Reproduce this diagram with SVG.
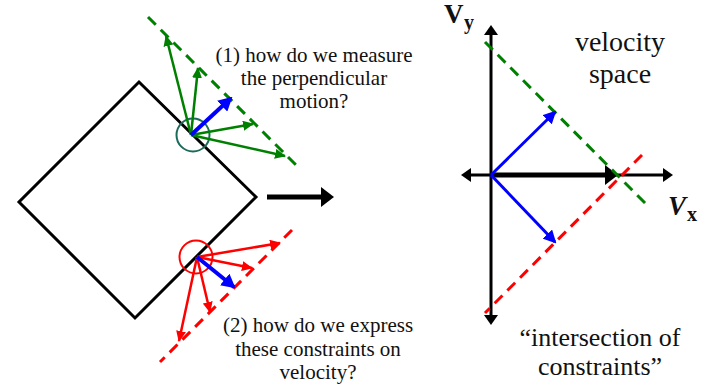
<svg xmlns="http://www.w3.org/2000/svg" width="706" height="389" viewBox="0 0 706 389">
<style>
.lbl{font-size:21px;text-anchor:middle}
.big{font-size:28px;text-anchor:middle}
.ioc{font-size:26px;text-anchor:middle}
.ax{font-weight:bold;font-size:27px}
.sub{font-weight:bold;font-size:20px}
.g{stroke:#008000;stroke-width:2.5;fill:none}
.r{stroke:#ff0000;stroke-width:2.5;fill:none}
.b{stroke:#0000ff;stroke-width:4;fill:none}
.bs{stroke:#0000ff;stroke-width:3;fill:none}
.k{stroke:#000;stroke-width:3;fill:none}
.gd{stroke:#008000;stroke-width:3;stroke-dasharray:11 7;fill:none}
.rd{stroke:#ff0000;stroke-width:3;stroke-dasharray:11 7;fill:none}
</style>
<defs>
<marker id="mG" markerUnits="userSpaceOnUse" markerWidth="11" markerHeight="10" refX="10" refY="5" orient="auto"><path d="M0,0 L11,5 L0,10 Z" fill="#008000"/></marker>
<marker id="mR" markerUnits="userSpaceOnUse" markerWidth="11" markerHeight="10" refX="10" refY="5" orient="auto"><path d="M0,0 L11,5 L0,10 Z" fill="#ff0000"/></marker>
<marker id="mB" markerUnits="userSpaceOnUse" markerWidth="14" markerHeight="15" refX="12" refY="7.5" orient="auto"><path d="M0,0 L14,7.5 L0,15 Z" fill="#0000ff"/></marker>
<marker id="mBs" markerUnits="userSpaceOnUse" markerWidth="13" markerHeight="13" refX="11" refY="6.5" orient="auto"><path d="M0,0 L13,6.5 L0,13 Z" fill="#0000ff"/></marker>
<marker id="mK" markerUnits="userSpaceOnUse" markerWidth="10" markerHeight="14" refX="1" refY="7" orient="auto-start-reverse"><path d="M0,0 L10,7 L0,14 Z" fill="#000"/></marker>
<marker id="mKb" markerUnits="userSpaceOnUse" markerWidth="13" markerHeight="20" refX="2" refY="10" orient="auto"><path d="M0,0 L13,10 L0,20 Z" fill="#000"/></marker>
</defs>

<g id="square">
<path d="M139,82 L256,197 L135,318 L19,202 Z" fill="none" stroke="#000" stroke-width="3" stroke-linejoin="miter"/>
</g>

<g id="motion-arrow">
<line x1="267" y1="197" x2="323" y2="197" stroke="#000" stroke-width="5" marker-end="url(#mKb)"/>
</g>

<g id="top-aperture">
<circle cx="193" cy="135" r="16.5" fill="none" stroke="#1b6b5a" stroke-width="2"/>
</g>
<g id="bottom-aperture">
<circle cx="196" cy="257" r="16.5" fill="none" stroke="#ff0000" stroke-width="2"/>
</g>

<g id="connectors">
<line class="gd" x1="148" y1="17" x2="296" y2="165"/>
<line class="g" x1="191" y1="135" x2="166" y2="36" marker-end="url(#mG)"/>
<line class="g" x1="191" y1="135" x2="198" y2="68" marker-end="url(#mG)"/>
<line class="g" x1="191" y1="135" x2="253" y2="124" marker-end="url(#mG)"/>
<line class="g" x1="191" y1="135" x2="285" y2="156" marker-end="url(#mG)"/>
<line class="b" x1="191" y1="135" x2="231" y2="98" marker-end="url(#mB)"/>

<line class="rd" x1="292" y1="230" x2="160" y2="362"/>
<line class="r" x1="197" y1="257" x2="280" y2="243" marker-end="url(#mR)"/>
<line class="r" x1="197" y1="257" x2="252" y2="268" marker-end="url(#mR)"/>
<line class="r" x1="197" y1="257" x2="210" y2="312" marker-end="url(#mR)"/>
<line class="r" x1="197" y1="257" x2="179" y2="341" marker-end="url(#mR)"/>
<line class="b" x1="197" y1="257" x2="234" y2="287" marker-end="url(#mB)"/>

<line class="k" x1="491" y1="34" x2="491" y2="316" marker-start="url(#mK)" marker-end="url(#mK)"/>
<line class="k" x1="470" y1="175" x2="664" y2="175" marker-start="url(#mK)" marker-end="url(#mK)"/>
<line x1="491" y1="175" x2="607" y2="175" stroke="#000" stroke-width="5" marker-end="url(#mKb)"/>
<line class="gd" x1="485" y1="42" x2="648" y2="206"/>
<line class="rd" x1="642" y1="155" x2="485" y2="313"/>
<line class="bs" x1="491" y1="175" x2="555" y2="112" marker-end="url(#mBs)"/>
<line class="bs" x1="491" y1="175" x2="555" y2="242" marker-end="url(#mBs)"/>
</g>

<g id="labels" font-family="'Liberation Serif', 'DejaVu Serif', serif" fill="#111">
<text class="lbl" x="314" y="62">(1) how do we measure</text>
<text class="lbl" x="314" y="85">the perpendicular</text>
<text class="lbl" x="314" y="108">motion?</text>
<text class="lbl" x="318" y="332">(2) how do we express</text>
<text class="lbl" x="318" y="356">these constraints on</text>
<text class="lbl" x="318" y="379">velocity?</text>
<text class="big" x="620" y="51">velocity</text>
<text class="big" x="620" y="83">space</text>
<text class="ioc" x="600" y="346">“intersection of</text>
<text class="ioc" x="600" y="375">constraints”</text>
<text class="ax" x="444" y="23">V</text><text class="sub" x="464" y="29">y</text>
<text class="ax" x="668" y="215" font-style="italic">V</text><text class="sub" x="687" y="221">x</text>
</g>
</svg>
